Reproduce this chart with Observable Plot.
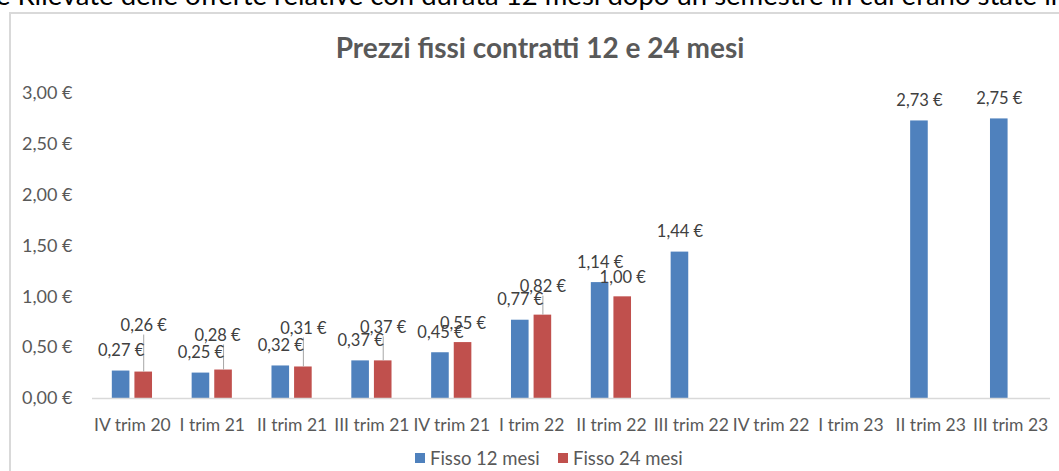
<!DOCTYPE html>
<html>
<head>
<meta charset="utf-8">
<script src="https://cdn.jsdelivr.net/npm/d3@7"></script>
<script src="https://cdn.jsdelivr.net/npm/@observablehq/plot@0.6"></script>
<style>
  html, body { margin: 0; padding: 0; background: #fff; width: 1059px; height: 471px; overflow: hidden; position: relative; font-family: Lato, "Open Sans", sans-serif; }
  #cuttext { position: absolute; left: -4px; top: -19px; font-size: 27.5px; line-height: 27px; color: #000; white-space: nowrap; }
  #frame { position: absolute; left: 9px; top: 12px; width: 1100px; height: 520px; border: 2px solid #d9d9d9; box-sizing: border-box; }
  #title { position: absolute; left: 0; width: 1080px; top: 33px; text-align: center; font-size: 28px; line-height: 28px; font-weight: bold; color: #595959; white-space: nowrap; }
  #chart { position: absolute; left: 0; top: 80px; }
  .lg-sw { position: absolute; top: 453px; width: 10px; height: 10px; }
  .lg-tx { position: absolute; top: 448px; font-size: 18.5px; line-height: 20px; color: #595959; white-space: nowrap; }
</style>
</head>
<body>
<div id="cuttext">e Rilevate delle offerte relative con durata 12 mesi dopo un semestre in cui erano state in</div>
<div id="frame"></div>
<div id="title">Prezzi fissi contratti 12 e 24 mesi</div>
<div id="chart"></div>
<script>
// ---- data ----
const quarters = ["IV trim 20","I trim 21","II trim 21","III trim 21","IV trim 21","I trim 22","II trim 22","III trim 22","IV trim 22","I trim 23","II trim 23","III trim 23"];
const fisso12 = [0.27, 0.25, 0.32, 0.37, 0.45, 0.77, 1.14, 1.44, null, null, 2.73, 2.75];
const fisso24 = [0.26, 0.28, 0.31, 0.37, 0.55, 0.82, 1.00, null, null, null, null, null];
const seriesNames = ["Fisso 12 mesi", "Fisso 24 mesi"];
const seriesColors = ["#4f81bd", "#c0504d"];
const yTicks = [0, 0.5, 1, 1.5, 2, 2.5, 3];

// ---- label layout (pixel lifts above bar top, as placed in the original) ----
const blueLift = 20;
const redLift = [46, 34, 38, 33, 19, 28, 19];
const redShift = [0, -6, 0, 0, 0, 0, 0];
const redLeader = [true, true, true, true, false, true, false];

const W = 1059, H = 360, mT = 13, mB = 42, mL = 92, mR = 9;
const yMax = 3;
const ppu = (H - mT - mB) / yMax;
const band = (W - mL - mR) / quarters.length;
const barW = 17.6, gap = 5;
const outer = (band - 2 * barW - gap) / 2;
const off = (barW + gap) / 2;

const fmt = v => v.toFixed(2).replace(".", ",") + " €";

const blueRows = quarters.map((q, i) => ({q, v: fisso12[i]})).filter(d => d.v != null);
const redRows = quarters.map((q, i) => ({q, v: fisso24[i], lift: redLift[i], dx: redShift[i], leader: redLeader[i]})).filter(d => d.v != null);

const redDx = [...new Set(redRows.map(d => d.dx))];
const labelFont = 16.5;

const chart = Plot.plot({
  width: W, height: H,
  marginTop: mT, marginBottom: mB, marginLeft: mL, marginRight: mR,
  style: {fontFamily: "Lato, 'Open Sans', sans-serif", fontSize: "18px", color: "#595959", background: "transparent"},
  x: {domain: quarters, padding: 0, round: false, label: null},
  y: {domain: [0, yMax], label: null},
  marks: [
    Plot.axisY({ticks: yTicks, tickFormat: fmt, tickSize: 0, tickPadding: 20, label: null, fontSize: 18, fill: "#595959"}),
    Plot.axisX({tickSize: 0, tickPadding: 20, label: null, fontSize: 17.5, fill: "#595959"}),
    Plot.barY(blueRows, {x: "q", y: "v", fill: seriesColors[0], insetLeft: outer, insetRight: band - outer - barW}),
    Plot.barY(redRows, {x: "q", y: "v", fill: seriesColors[1], insetLeft: band - outer - barW, insetRight: outer}),
    Plot.ruleY([0], {stroke: "#d9d9d9", strokeWidth: 1.5}),
    Plot.ruleX(redRows.filter(d => d.leader), {x: "q", dx: off, y1: "v", y2: d => d.v + (d.lift - 9) / ppu, stroke: "#a6a6a6", strokeWidth: 1}),
    Plot.text(blueRows, {x: "q", dx: -off, y: d => d.v + blueLift / ppu, text: d => fmt(d.v), fill: "#404040", fontSize: labelFont, lineAnchor: "middle"}),
    ...redDx.map(dx => Plot.text(redRows.filter(d => d.dx === dx), {
      x: "q", dx: off + dx, y: d => d.v + d.lift / ppu, text: d => fmt(d.v),
      fill: "#404040", fontSize: labelFont, lineAnchor: "middle"
    }))
  ]
});
document.getElementById("chart").appendChild(chart);

const legendLefts = [415, 558];
seriesNames.forEach((name, i) => {
  const sw = document.createElement("div");
  sw.className = "lg-sw";
  sw.style.left = legendLefts[i] + "px";
  sw.style.background = seriesColors[i];
  document.body.appendChild(sw);
  const tx = document.createElement("div");
  tx.className = "lg-tx";
  tx.style.left = (legendLefts[i] + 15) + "px";
  tx.textContent = name;
  document.body.appendChild(tx);
});
</script>
</body>
</html>
